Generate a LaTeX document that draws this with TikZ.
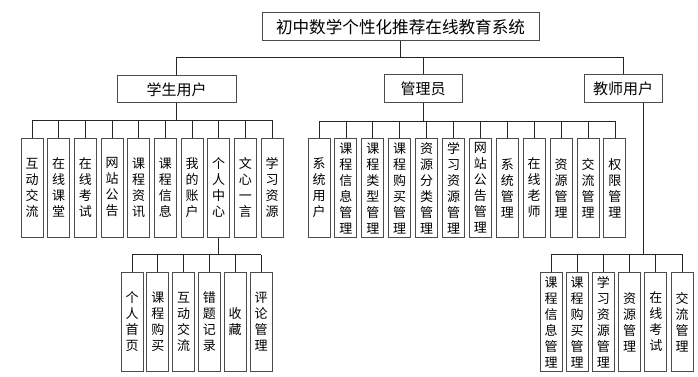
\documentclass[tikz,border=0pt]{standalone}
\usepackage{fontspec}
\usepackage{tikz}
\newfontfamily\cjk{Noto Sans CJK SC}
\XeTeXlinebreaklocale "zh"
\XeTeXlinebreakskip=0pt plus 1pt

\tikzset{
  box/.style={draw=black!70, line width=1pt, fill=white, inner sep=0pt, font=\cjk\fontsize{15}{17}\selectfont},
  leaf/.style={box, minimum width=22pt, minimum height=99pt, text width=14pt, align=center, font=\cjk\fontsize{13}{16}\selectfont},
  link/.style={draw=black!85, line width=0.8pt}
}

\begin{document}
\begin{tikzpicture}[x=1pt,y=-1pt]
  \useasboundingbox (0,0) rectangle (698,377);

  % Root and first level
  \node[box, minimum width=277pt, minimum height=28pt, font=\cjk\fontsize{16.6}{18}\selectfont] (root) at (400.5,27) {初中数学个性化推荐在线教育系统};
  \node[box, minimum width=119pt, minimum height=27pt] (stu) at (176.5,89.5) {学生用户};
  \node[box, minimum width=78pt, minimum height=28pt] (adm) at (423,89) {管理员};
  \node[box, minimum width=78pt, minimum height=28pt] (tea) at (623,89) {教师用户};
  \coordinate (rbus) at (400.5,57);
  \draw[link] (root.south) -- (rbus);
  \draw[link] (stu.north |- rbus) -- (tea.north |- rbus);
  \foreach \n in {stu,adm,tea}
    \draw[link] (\n.north) -- (\n.north |- rbus);

  % Student modules
  \foreach \t [count=\i from 0] in {互动交流,在线课堂,在线考试,网站公告,课程资讯,课程信息,我的账户,个人中心,文心一言,学习资源}
    \node[leaf] (s\i) at (32+26.67*\i,187.5) {\t};
  \coordinate (sbus) at (176.5,120);
  \draw[link] (stu.south) -- (sbus);
  \draw[link] (s0.north |- sbus) -- (s9.north |- sbus);
  \foreach \i in {0,...,9}
    \draw[link] (s\i.north) -- (s\i.north |- sbus);

  % Personal centre
  \foreach \t [count=\i from 0] in {个人首页,课程购买,互动交流,错题记录,收藏,评论管理}
    \node[leaf] (p\i) at (132+25.8*\i,321.5) {\t};
  \path (s7.south) ++(0,17) coordinate (pbus);
  \draw[link] (s7.south) -- (pbus);
  \draw[link] (p0.north |- pbus) -- (p5.north |- pbus);
  \foreach \i in {0,...,5}
    \draw[link] (p\i.north) -- (p\i.north |- pbus);

  % Admin modules
  \foreach \t [count=\i from 0] in {系统用户,课程信息管理,课程类型管理,课程购买管理,资源分类管理,学习资源管理,网站公告管理,系统管理,在线老师,资源管理,交流管理,权限管理}
    \node[leaf] (a\i) at (319+26.9*\i,188) {\t};
  \coordinate (abus) at (423,121);
  \draw[link] (adm.south) -- (abus);
  \draw[link] (a0.north |- abus) -- (a11.north |- abus);
  \foreach \i in {0,...,11}
    \draw[link] (a\i.north) -- (a\i.north |- abus);

  % Teacher modules
  \foreach \t [count=\i from 0] in {课程信息管理,课程购买管理,学习资源管理,资源管理,在线考试,交流管理}
    \node[leaf] (t\i) at (551+26.2*\i,322) {\t};
  \coordinate (tbus) at (643,254);
  \draw[link] (tbus |- tea.south) -- (tbus);
  \draw[link] (t0.north |- tbus) -- (t5.north |- tbus);
  \foreach \i in {0,...,5}
    \draw[link] (t\i.north) -- (t\i.north |- tbus);
\end{tikzpicture}
\end{document}
